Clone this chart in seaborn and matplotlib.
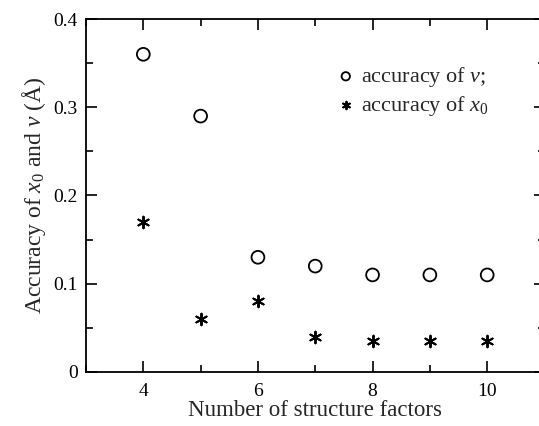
import matplotlib
matplotlib.use("Agg")
import matplotlib.pyplot as plt
import seaborn as sns
import pandas as pd
from matplotlib.ticker import MultipleLocator, FuncFormatter

n_factors = [4, 5, 6, 7, 8, 9, 10]
acc_v = [0.36, 0.29, 0.13, 0.12, 0.11, 0.11, 0.11]
acc_x0 = [0.17, 0.06, 0.08, 0.04, 0.035, 0.035, 0.035]
label_v = "accuracy of $v$;"
label_x0 = "accuracy of $x_0$"

sns.set_theme(style="ticks")
plt.rcParams['font.family'] = ['Liberation Serif', 'DejaVu Serif']
plt.rcParams['mathtext.fontset'] = 'custom'
plt.rcParams['mathtext.rm'] = 'Liberation Serif'
plt.rcParams['mathtext.it'] = 'Liberation Serif:italic'

df_v = pd.DataFrame({"n": n_factors, "acc": acc_v})
df_x = pd.DataFrame({"n": n_factors, "acc": acc_x0})

fig = plt.figure(figsize=(5.39, 4.26), dpi=100)
ax = fig.add_axes([86/539, 1-372/426, (544.5-86)/539, (372-19)/426])

sns.scatterplot(data=df_v, x="n", y="acc", ax=ax, marker="o", s=85,
                facecolor="none", edgecolor="black", linewidth=1.3, label=label_v)
sns.scatterplot(data=df_x, x="n", y="acc", ax=ax, marker=(6, 2, 0), s=70,
                color="black", edgecolor="black", linewidth=1.4, label=label_x0)

ax.set_xlim(3, 11)
ax.set_ylim(0, 0.4)
ax.xaxis.set_major_locator(MultipleLocator(2))
ax.xaxis.set_minor_locator(MultipleLocator(1))
ax.yaxis.set_major_locator(MultipleLocator(0.1))
ax.yaxis.set_minor_locator(MultipleLocator(0.05))
ax.yaxis.set_major_formatter(FuncFormatter(lambda v, p: "0" if abs(v) < 1e-9 else f"{v:.1f}"))
ax.tick_params(which="both", direction="in", top=True, right=True, width=1.2,
               labelsize=14, colors="black")
ax.tick_params(which="major", length=8)
ax.tick_params(which="minor", length=5)
ax.tick_params(axis="x", pad=8)
ax.tick_params(axis="y", pad=6)
for sp in ax.spines.values():
    sp.set_linewidth(1.3)
    sp.set_color("black")

ax.set_xlabel("Number of structure factors", fontsize=16.5, labelpad=0)
ax.set_ylabel("Accuracy of $x_0$ and $v$ (Å)", fontsize=17, labelpad=4)

leg = ax.legend(loc="upper left", bbox_to_anchor=(328/539, 1-54/426),
                bbox_transform=fig.transFigure, frameon=False, fontsize=16,
                handlelength=0.6, handletextpad=0.4, borderpad=0, labelspacing=0.2,
                markerscale=0.65)

fig.savefig("out.png", dpi=100)
